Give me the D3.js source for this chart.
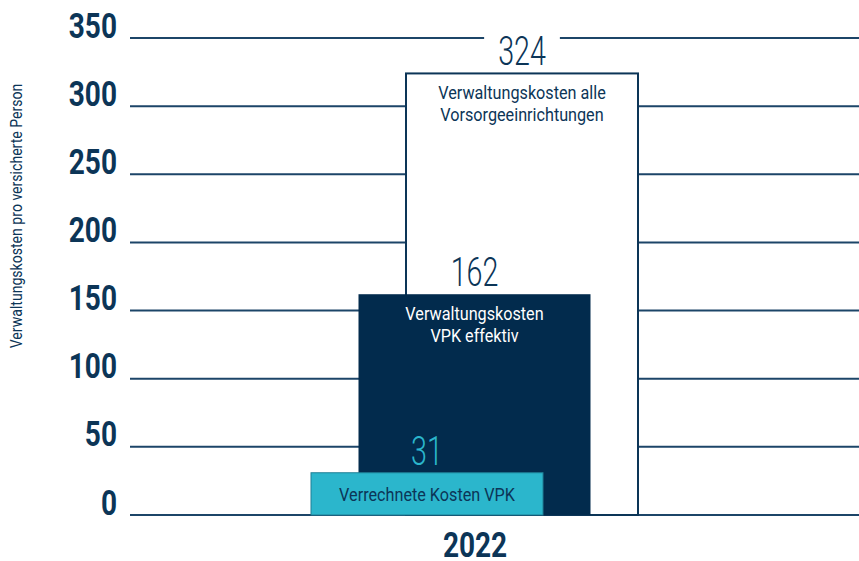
<!DOCTYPE html>
<html>
<head>
<meta charset="utf-8">
<script src="https://cdn.jsdelivr.net/npm/d3@7"></script>
<style>
  html, body { margin: 0; padding: 0; background: #ffffff; }
  svg { display: block; font-family: Roboto, "DejaVu Sans", sans-serif; }
</style>
</head>
<body>
<div id="chart"></div>
<script>
// Daten
const jahre = ["2022"];
const serien = ["Verrechnete Kosten VPK", "Verwaltungskosten VPK effektiv", "Verwaltungskosten alle Vorsorgeeinrichtungen"];
const werte = [31, 162, 324];
const balkenText = [["Verrechnete Kosten VPK"], ["Verwaltungskosten", "VPK effektiv"], ["Verwaltungskosten alle", "Vorsorgeeinrichtungen"]];
const yTicks = [0, 50, 100, 150, 200, 250, 300, 350];
const yTitel = "Verwaltungskosten pro versicherte Person";

const breite = 859, hoehe = 561;
const margin = { top: 38, right: 0, bottom: 46, left: 130 };

const navy = "#0c3557";
const dunkel = "#022b4d";
const tuerkis = "#2bb6cc";

// schmale Schrift nachbilden (horizontal gestaucht)
const schmal = 0.78;

const svg = d3.select("#chart").append("svg")
    .attr("width", breite)
    .attr("height", hoehe);

const y = d3.scaleLinear()
    .domain([0, 350])
    .range([hoehe - margin.bottom, margin.top]);

const x = d3.scaleBand()
    .domain(jahre)
    .range([margin.left, 820]);

// Versatz der drei überlappenden Balken
const versatz = d3.scalePoint()
    .domain(serien)
    .range([-48, 47]);
const balkenBreite = 232;

function text(parent, px, py, str, opt) {
    const g = parent.append("g")
        .attr("transform", `translate(${px},${py}) ${opt.rot ? "rotate(-90)" : ""} scale(${opt.sx || schmal},1)`);
    return g.append("text")
        .attr("text-anchor", opt.anchor || "middle")
        .attr("fill", opt.fill || navy)
        .style("font-size", opt.size + "px")
        .style("font-weight", opt.weight || 300)
        .text(str);
}

// Gitterlinien
svg.append("g")
    .selectAll("line")
    .data(yTicks)
    .join("line")
    .attr("x1", margin.left)
    .attr("x2", breite)
    .attr("y1", d => y(d))
    .attr("y2", d => y(d))
    .attr("stroke", "#1c4568")
    .attr("stroke-width", 2);

// Y-Achse (Beschriftung)
const yAchse = svg.append("g")
    .attr("transform", `translate(117,0)`)
    .call(d3.axisLeft(y).tickValues(yTicks).tickSize(0).tickPadding(0));
yAchse.select(".domain").remove();
yAchse.selectAll("text")
    .attr("dy", 0)
    .attr("y", -1)
    .attr("transform", "scale(0.8,1)")
    .attr("fill", navy)
    .style("font-family", "Roboto, sans-serif")
    .style("font-size", "35px")
    .style("font-weight", "bold");

// Achsentitel
text(svg, 22, 216, yTitel, { size: 16, rot: true, sx: 0.88, weight: 400 });

// X-Achse (Jahr)
const xAchse = svg.append("g")
    .attr("transform", `translate(0,557)`)
    .call(d3.axisBottom(x).tickSize(0).tickPadding(0));
xAchse.select(".domain").remove();
xAchse.selectAll("text")
    .attr("dy", 0)
    .attr("transform", "scale(0.8,1)")
    .attr("fill", navy)
    .style("font-family", "Roboto, sans-serif")
    .style("font-size", "35px")
    .style("font-weight", "bold");

const mitte = x("2022") + x.bandwidth() / 2;
const daten = serien.map((s, i) => ({ serie: s, wert: werte[i], text: balkenText[i], i }));
const fuellung = [tuerkis, dunkel, "#ffffff"];
const rand = ["#1f7f95", "none", navy];
const textFarbe = [navy, "#ffffff", navy];
const zahlFarbe = [tuerkis, navy, navy];

// von hinten nach vorne zeichnen
daten.slice().reverse().forEach(d => {
    const cx = mitte + versatz(d.serie);
    const g = svg.append("g");

    // Wert über dem Balken
    const zahl = text(g, cx, y(d.wert) - 8, d.wert, { size: 41, sx: 0.7, fill: zahlFarbe[d.i] });

    if (d.i === 2) {
        // Gitterlinie hinter der Zahl unterbrechen
        const bb = zahl.node().getBBox();
        d3.select(zahl.node().parentNode).insert("rect", "text")
            .attr("x", bb.x - 20)
            .attr("y", bb.y)
            .attr("width", bb.width + 40)
            .attr("height", bb.height)
            .attr("fill", "#ffffff");
    }

    g.append("rect")
        .attr("x", cx - balkenBreite / 2)
        .attr("y", y(d.wert))
        .attr("width", balkenBreite)
        .attr("height", y(0) - y(d.wert))
        .attr("fill", fuellung[d.i])
        .attr("stroke", rand[d.i])
        .attr("stroke-width", d.i === 2 ? 2 : 1);

    const startY = d.i === 0 ? y(0) - 14 : y(d.wert) + 26;
    d.text.forEach((zeile, k) => {
        text(g, cx, startY + k * 22, zeile, { size: 18, sx: 0.9, fill: textFarbe[d.i], weight: 400 });
    });
});
</script>
</body>
</html>
